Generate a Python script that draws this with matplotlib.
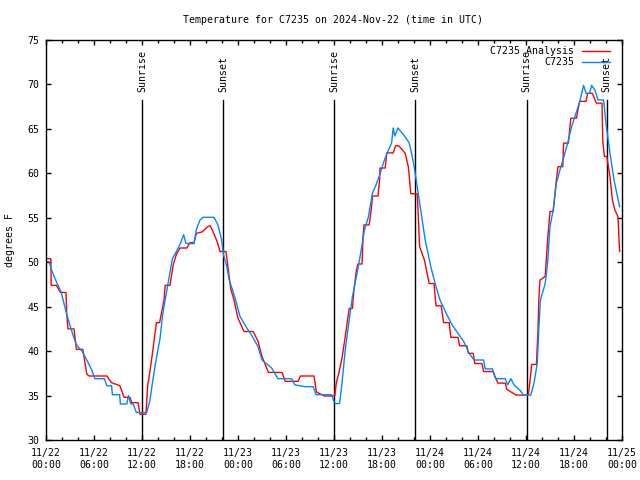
"""Temperature trace for station C7235, analysis vs observed, with sun events."""

import matplotlib
matplotlib.use("Agg")
import matplotlib.pyplot as plt
import matplotlib.dates as mdates
import pandas as pd

START = pd.Timestamp("2024-11-22 00:00")

# hours since START, temperature in deg F
analysis_hours = [
    0.0, 0.6, 0.65, 1.3, 1.8, 2.5, 2.6, 2.75, 3.5, 3.8, 4.6, 5.1, 5.4, 7.6,
    8.2, 9.25, 9.75, 10.5, 10.7, 11.5, 11.75, 12.5, 12.7, 13.1, 13.4, 13.8,
    14.2, 14.75, 14.9, 15.5, 15.9, 16.3, 16.75, 17.6, 18.0, 18.5, 18.8, 19.5,
    20.2, 20.5, 20.8, 21.4, 21.75, 22.5, 22.8, 23.1, 23.5, 24.0, 24.75, 25.9,
    26.5, 27.0, 27.8, 29.5, 29.9, 31.5, 31.8, 33.5, 33.8, 34.8, 35.9, 36.1,
    36.3, 36.6, 37.0, 37.4, 37.7, 37.9, 38.3, 38.5, 38.8, 39.0, 39.5, 39.65,
    39.75, 40.4, 40.7, 40.8, 41.5, 41.7, 41.75, 42.4, 42.6, 43.4, 43.7, 44.1,
    44.9, 45.3, 45.6, 46.4, 46.5, 46.7, 47.3, 47.9, 48.5, 48.75, 49.4, 49.7,
    50.4, 50.6, 51.5, 51.7, 52.6, 52.8, 53.4, 53.6, 54.5, 54.7, 55.9, 56.1,
    56.5, 57.4, 57.6, 58.4, 58.8, 60.3, 60.6, 60.7, 61.3, 61.5, 61.6, 61.75,
    62.4, 62.7, 63.0, 63.4, 63.75, 64.0, 64.6, 64.7, 65.3, 65.6, 66.3, 66.7,
    67.5, 67.7, 68.3, 68.8, 69.5, 69.6, 69.8, 70.1, 70.5, 70.8, 71.1, 71.5,
    71.7,
]
analysis_temps = [
    50.4, 50.4, 47.4, 47.4, 46.6, 46.6, 44.0, 42.5, 42.5, 40.2, 40.2, 37.4, 37.2, 37.2,
    36.45, 36.1, 34.8, 34.8, 34.2, 34.2, 32.9, 32.9, 36.0, 38.4, 40.4, 43.2,
    43.2, 45.75, 47.4, 47.4, 49.7, 50.9, 51.6, 51.6, 52.2, 52.2, 53.25, 53.4,
    54.0, 54.1, 53.6, 52.3, 51.2, 51.2, 49.1, 46.95, 45.75, 43.7, 42.2, 42.2,
    41.1, 39.4, 37.6, 37.6, 36.6, 36.6, 37.2, 37.2, 35.4, 34.95, 34.95, 35.0,
    36.5, 37.5, 39.2, 41.6, 43.5, 44.8, 44.8, 46.9, 49.1, 49.8, 49.8, 53.1,
    54.2, 54.2, 56.25, 57.45, 57.45, 59.25, 60.6, 60.6, 62.3, 62.3, 63.1, 63.1,
    62.25, 60.7, 57.7, 57.7, 55.9, 51.75, 50.25, 47.6, 47.6, 45.1, 45.1, 43.2,
    43.2, 41.55, 41.55, 40.6, 40.6, 39.75, 39.75, 38.6, 38.6, 37.7, 37.7, 37.2,
    36.4, 36.4, 35.7, 35.25, 35.05, 35.05, 37.5, 38.5, 38.5, 42.4, 45.75, 48.0,
    48.4, 52.5, 55.7, 55.7, 58.9, 60.75, 60.75, 63.4, 63.4, 66.2, 66.2, 68.1,
    68.1, 69.0, 69.0, 67.9, 67.9, 63.6, 61.9, 61.9, 59.6, 57.0, 55.9, 55.1,
    51.2,
]

station_hours = [
    0.0, 0.4, 0.7, 1.3, 1.9, 2.6, 3.3, 3.8, 4.5, 5.1, 5.7, 6.1, 7.3, 7.6, 8.2,
    8.3, 9.2, 9.3, 10.1, 10.3, 10.6, 10.9, 11.3, 12.6, 13.0, 13.3, 13.7, 14.25,
    14.6, 15.0, 15.4, 15.8, 16.3, 16.8, 17.2, 17.5, 18.5, 18.8, 19.25, 19.6,
    21.0, 21.5, 21.95, 22.2, 22.6, 22.9, 23.6, 24.25, 25.1, 25.7, 26.5, 27.0,
    28.2, 29.0, 30.7, 31.1, 32.4, 33.4, 33.75, 35.7, 36.0, 36.2, 36.7, 37.0,
    37.4, 37.9, 38.3, 39.0, 39.4, 39.8, 40.3, 40.8, 41.25, 41.7, 42.3, 42.8,
    43.2, 43.4, 43.6, 44.0, 44.9, 45.4, 45.7, 46.0, 46.4, 46.9, 47.4, 48.1,
    48.75, 49.25, 50.1, 50.8, 51.5, 52.2, 52.9, 53.5, 54.7, 54.9, 55.8, 56.0,
    56.2, 57.4, 57.7, 58.1, 58.5, 59.25, 59.7, 60.6, 61.0, 61.4, 61.6, 61.8,
    62.4, 62.7, 63.0, 63.4, 63.8, 64.25, 64.75, 65.2, 65.7, 66.3, 66.7, 67.2,
    67.5, 67.95, 68.2, 68.6, 69.0, 69.7, 70.0, 70.5, 71.0, 71.7,
]
station_temps = [
    50.06, 50.06, 49.1, 47.8, 46.6, 44.1, 42.0, 40.7, 40.0, 39.0, 37.9, 36.9, 36.9, 36.1, 36.1,
    35.1, 35.1, 34.05, 34.05, 35.0, 34.05, 34.05, 33.1, 33.1, 34.5, 36.4, 38.7, 41.4,
    44.25, 46.3, 48.4, 50.4, 51.2, 52.1, 53.1, 52.1, 52.1, 53.7, 54.75, 55.05,
    55.05, 54.2, 52.5, 50.8, 49.5, 48.0, 46.1, 43.9, 42.6, 41.8, 40.5, 39.0,
    38.1, 36.9, 36.9, 36.2, 36.0, 36.0, 35.1, 35.1, 34.3, 34.1, 34.1, 36.4,
    40.1, 43.5, 46.1, 49.3, 51.4, 53.6, 55.1, 57.75, 58.7, 59.8, 61.5, 62.6,
    63.4, 65.1, 64.2, 65.1, 64.1, 63.4, 62.25, 60.9, 58.5, 55.5, 52.5, 49.5,
    47.25, 45.75, 44.1, 42.9, 42.0, 41.1, 39.75, 39.0, 39.0, 38.0, 38.0, 37.4,
    36.9, 36.9, 36.2, 36.9, 36.2, 35.6, 35.05, 35.05, 36.4, 38.6, 42.4, 45.75,
    47.6, 49.9, 54.0, 55.9, 58.9, 60.4, 61.9, 63.4, 65.25, 66.9, 68.0, 69.9,
    69.0, 69.0, 69.9, 69.4, 68.25, 68.25, 65.6, 62.25, 59.25, 56.25,
]

sun_labels = ["Sunrise", "Sunset", "Sunrise", "Sunset", "Sunrise", "Sunset"]
sun_times = [
    "2024-11-22 12:02", "2024-11-22 22:10",
    "2024-11-23 12:02", "2024-11-23 22:10",
    "2024-11-24 12:05", "2024-11-24 22:05",
]

y_ticks = [30, 35, 40, 45, 50, 55, 60, 65, 70, 75]

FONT = "DejaVu Sans Mono"
FS = 7.1


def to_times(hours):
    return START + pd.to_timedelta(hours, unit="h")


def main() -> int:
    plt.rcParams["font.family"] = FONT
    plt.rcParams["font.size"] = FS

    fig = plt.figure(figsize=(6.4, 4.8), dpi=100)
    ax = fig.add_axes([46 / 640, 1 - 440 / 480, 576 / 640, 400 / 480])

    ax.plot(to_times(analysis_hours), analysis_temps, color="#ff0000", lw=1.0,
            label="C7235 Analysis")
    ax.plot(to_times(station_hours), station_temps, color="#0088ff", lw=1.0,
            label="C7235")

    for label, t in zip(sun_labels, sun_times):
        ts = pd.Timestamp(t)
        ax.plot([ts, ts], [30, 68.3], color="black", lw=1.0, zorder=1)
        ax.text(ts, 69.1, label, rotation=90, ha="center", va="bottom",
                fontsize=FS)

    ax.set_xlim(START, START + pd.Timedelta(hours=72))
    ax.set_ylim(30, 75)
    ax.set_yticks(y_ticks)

    ax.xaxis.set_major_locator(mdates.HourLocator(byhour=[0, 6, 12, 18]))
    ax.xaxis.set_minor_locator(mdates.HourLocator(interval=2))
    ax.xaxis.set_major_formatter(mdates.DateFormatter("%m/%d\n%H:%M"))

    ax.tick_params(which="both", direction="in", top=True, right=True,
                   labelsize=FS, width=1.0)
    ax.tick_params(which="major", length=3.6)
    ax.tick_params(which="minor", length=2.2)
    ax.tick_params(axis="y", which="major", pad=4.6)
    ax.tick_params(axis="x", which="major", pad=5.5)
    for lab in ax.get_xticklabels():
        lab.set_linespacing(1.35)
    for spine in ax.spines.values():
        spine.set_linewidth(1.0)

    leg = ax.legend(loc="upper right", bbox_to_anchor=(0.979, 0.985),
                    frameon=False, markerfirst=False, handlelength=2.87,
                    handletextpad=0.78, labelspacing=0.15, borderpad=0,
                    borderaxespad=0, fontsize=FS)
    leg.set_zorder(5)

    fig.text(333.3 / 640, 1 - 20 / 480,
             "Temperature for C7235 on 2024-Nov-22 (time in UTC)",
             ha="center", va="center", fontsize=FS)
    fig.text(10 / 640, 0.5, "degrees F", rotation=90, ha="center", va="center",
             fontsize=FS)

    fig.savefig("out.png", dpi=100)
    plt.close(fig)
    return 0


if __name__ == "__main__":
    raise SystemExit(main())
